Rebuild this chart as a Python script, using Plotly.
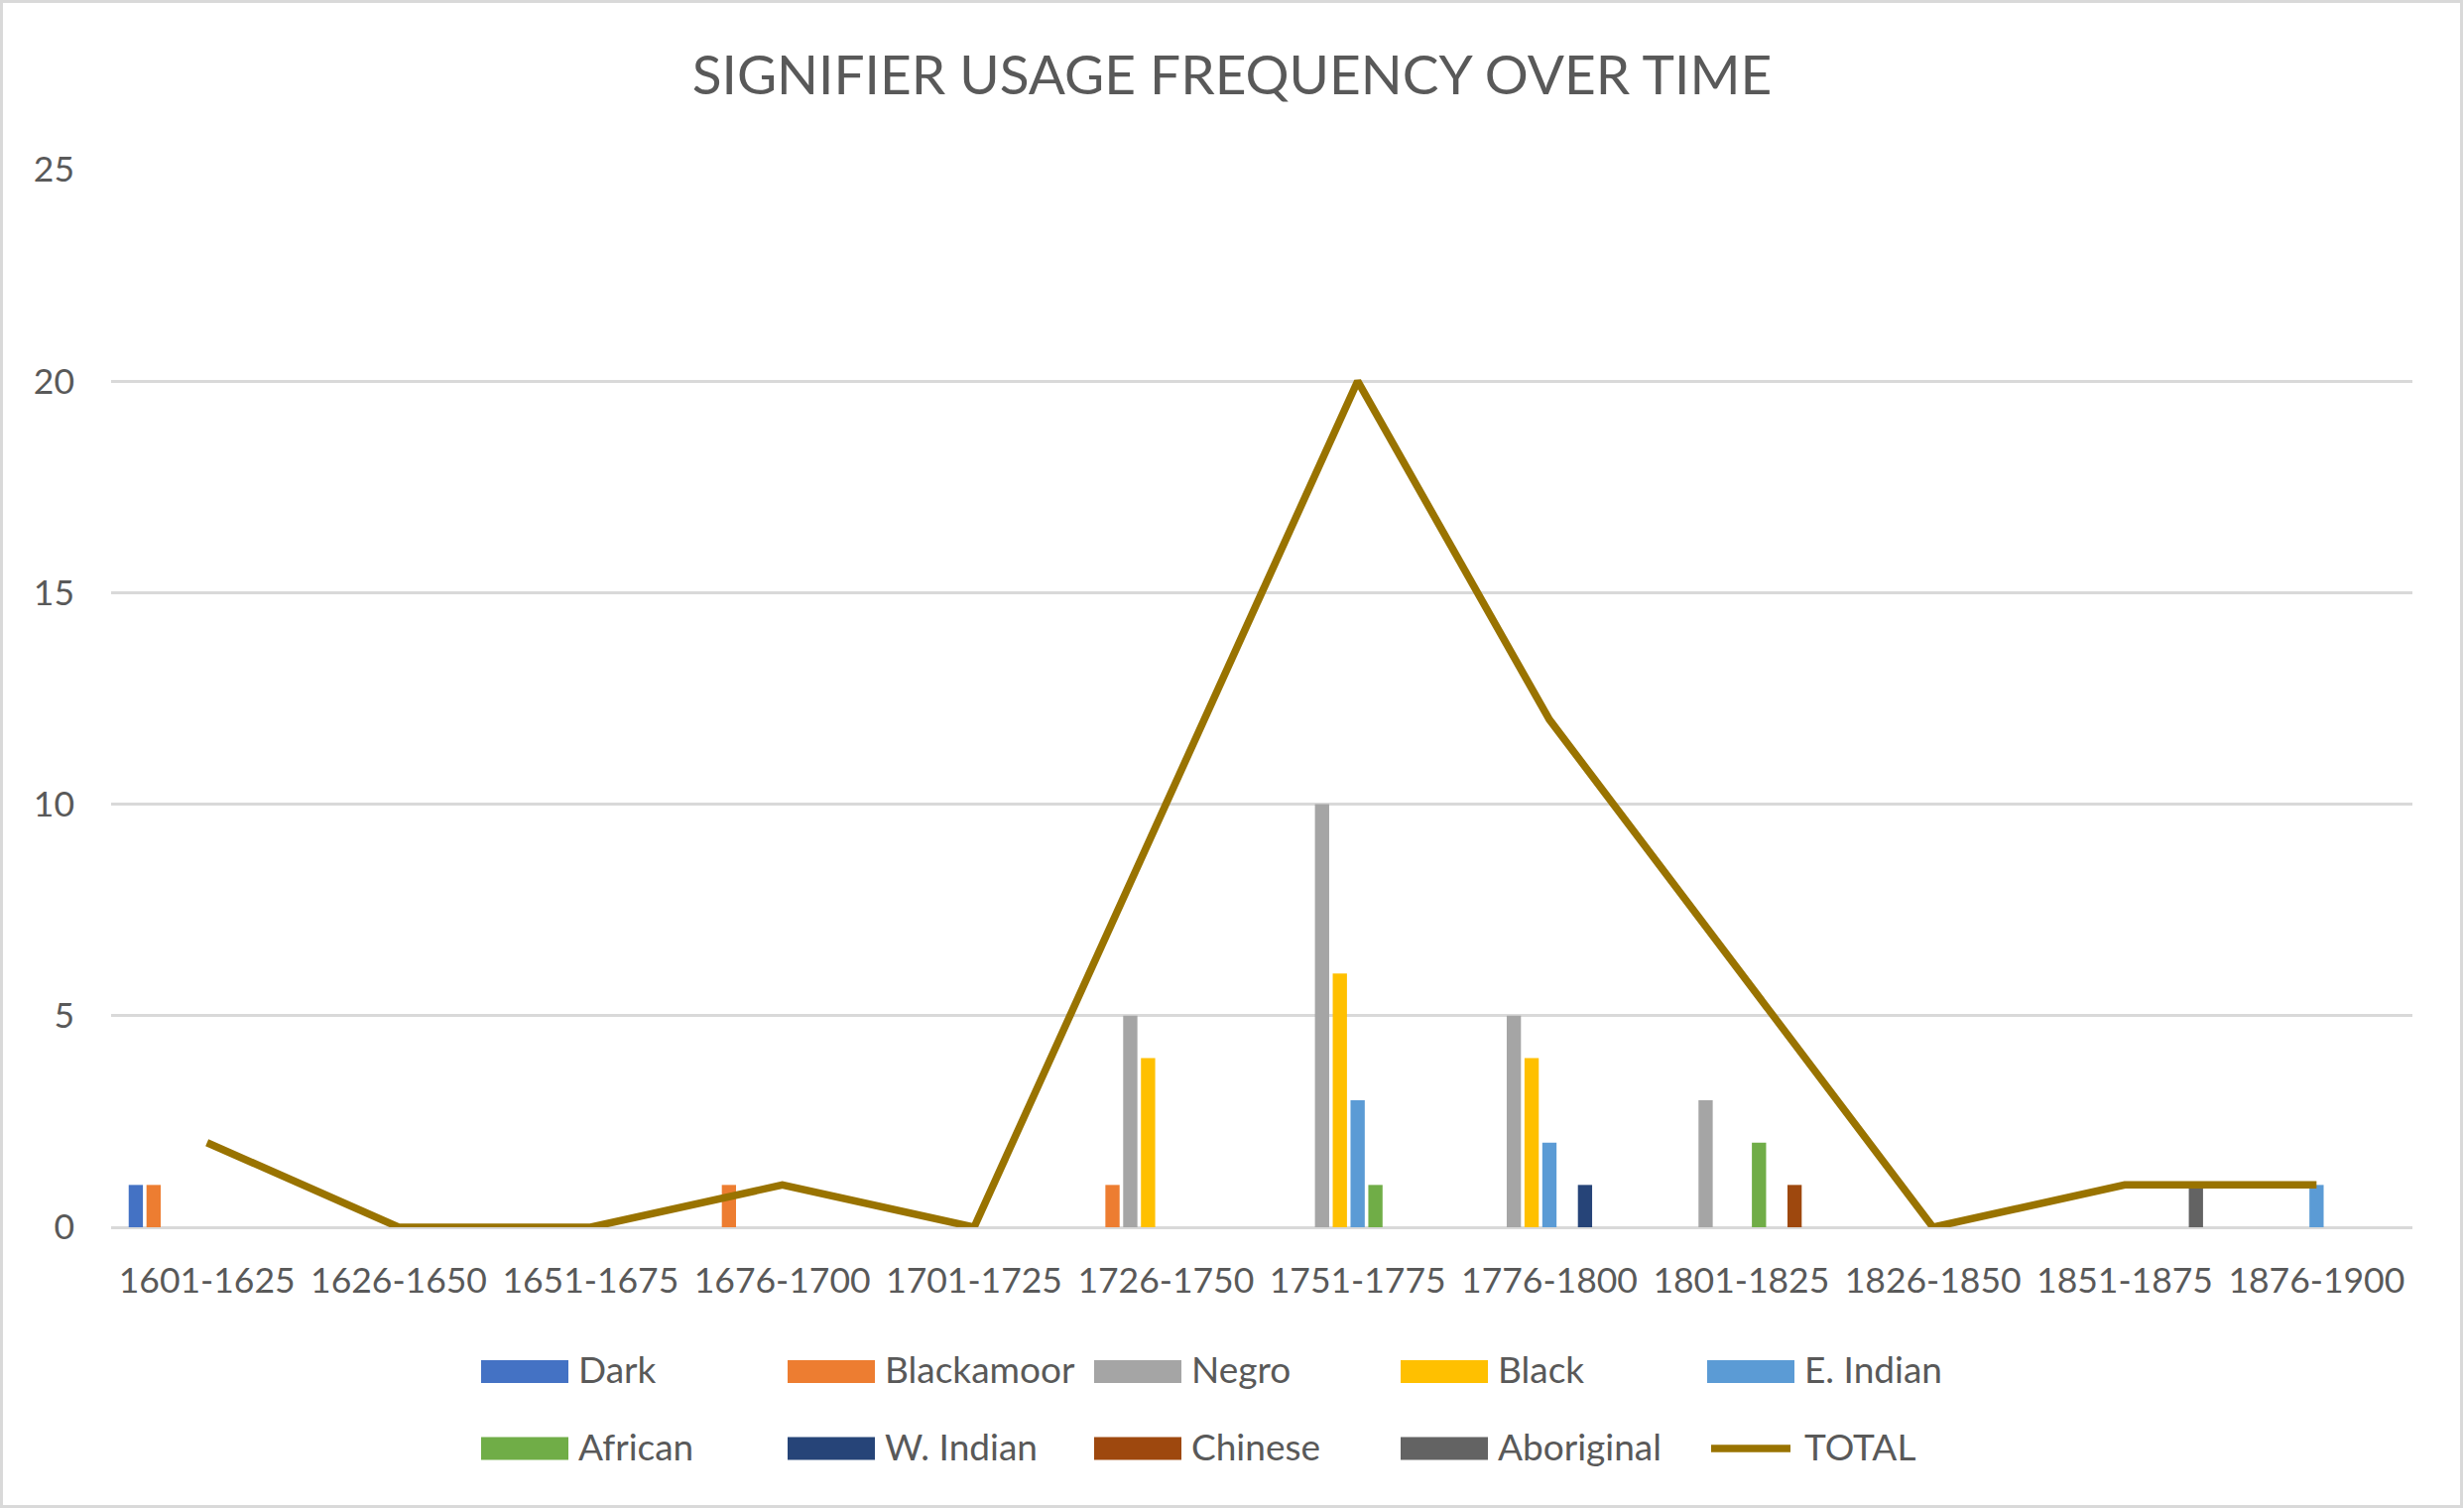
import plotly.graph_objects as go

categories = ["1601-1625", "1626-1650", "1651-1675", "1676-1700", "1701-1725", "1726-1750",
              "1751-1775", "1776-1800", "1801-1825", "1826-1850", "1851-1875", "1876-1900"]

dark =       [1, 0, 0, 0, 0, 0, 0, 0, 0, 0, 0, 0]
blackamoor = [1, 0, 0, 1, 0, 1, 0, 0, 0, 0, 0, 0]
negro =      [0, 0, 0, 0, 0, 5, 10, 5, 3, 0, 0, 0]
black =      [0, 0, 0, 0, 0, 4, 6, 4, 0, 0, 0, 0]
e_indian =   [0, 0, 0, 0, 0, 0, 3, 2, 0, 0, 0, 1]
african =    [0, 0, 0, 0, 0, 0, 1, 0, 2, 0, 0, 0]
w_indian =   [0, 0, 0, 0, 0, 0, 0, 1, 0, 0, 0, 0]
chinese =    [0, 0, 0, 0, 0, 0, 0, 0, 1, 0, 0, 0]
aboriginal = [0, 0, 0, 0, 0, 0, 0, 0, 0, 0, 1, 0]
total =      [2, 0, 0, 1, 0, 10, 20, 12, 6, 0, 1, 1]

series_names = ["Dark", "Blackamoor", "Negro", "Black", "E. Indian",
                "African", "W. Indian", "Chinese", "Aboriginal"]
series_values = [dark, blackamoor, negro, black, e_indian,
                 african, w_indian, chinese, aboriginal]
series_colors = ["#4472C4", "#ED7D31", "#A5A5A5", "#FFC000", "#5B9BD5",
                 "#70AD47", "#264478", "#9E480E", "#636363"]
total_color = "#997300"

FONT = "Lato"
TEXT = "#595959"
GRID = "#D9D9D9"

W, H = 2484, 1521
ML, MR, MT, MB = 112, 52, 171, 284
PW = W - ML - MR
PH = H - MT - MB


def px_x(x):
    return (x - ML) / PW


def px_y(y):
    return (H - MB - y) / PH


fig = go.Figure()
for name, vals, col in zip(series_names, series_values, series_colors):
    fig.add_trace(go.Bar(x=categories, y=vals, name=name, marker_color=col,
                         marker_line_width=0, showlegend=False))
fig.add_trace(go.Scatter(x=categories, y=total, name="TOTAL", mode="lines",
                         line=dict(color=total_color, width=7.5), showlegend=False))

shapes = []
annotations = []
# outer chart border
shapes.append(dict(type="rect", xref="paper", yref="paper",
                   x0=px_x(1.5), x1=px_x(W - 2.5), y0=px_y(H - 2.5), y1=px_y(1.5),
                   line=dict(color=GRID, width=3), fillcolor="rgba(0,0,0,0)", layer="below"))

# custom legend (Excel style)
legend_names = series_names + ["TOTAL"]
legend_colors = series_colors + [total_color]
col_x0 = 485
col_step = 309
row_y = [1382.5, 1460]
for i, (nm, colr) in enumerate(zip(legend_names, legend_colors)):
    r, c = divmod(i, 5)
    x0 = col_x0 + c * col_step
    yc = row_y[r]
    if nm == "TOTAL":
        shapes.append(dict(type="line", xref="paper", yref="paper",
                           x0=px_x(x0 + 4), x1=px_x(x0 + 84), y0=px_y(yc), y1=px_y(yc),
                           line=dict(color=colr, width=7.5)))
    else:
        shapes.append(dict(type="rect", xref="paper", yref="paper",
                           x0=px_x(x0), x1=px_x(x0 + 88), y0=px_y(yc + 11.5), y1=px_y(yc - 11.5),
                           line=dict(width=0), fillcolor=colr))
    annotations.append(dict(text=nm, xref="paper", yref="paper", x=px_x(x0 + 96), y=px_y(yc - 3),
                            xanchor="left", yanchor="middle", showarrow=False,
                            font=dict(family=FONT, size=37, color=TEXT)))

fig.update_layout(
    width=W, height=H,
    margin=dict(l=ML, r=MR, t=MT, b=MB, pad=0),
    paper_bgcolor="white", plot_bgcolor="white",
    barmode="group", bargap=0.165, bargroupgap=0.2,
    title=dict(text="SIGNIFIER USAGE FREQUENCY OVER TIME", x=0.5, xref="container",
               xanchor="center", y=1 - 76 / H, yref="container", yanchor="middle",
               font=dict(family=FONT, size=55, color=TEXT)),
    font=dict(family=FONT, size=35, color=TEXT),
    xaxis=dict(type="category", showgrid=False, showline=False, ticks="",
               tickfont=dict(family=FONT, size=35.5, color=TEXT), ticklabelstandoff=29,
               fixedrange=True),
    yaxis=dict(range=[0, 25], dtick=5, showgrid=True, gridcolor=GRID, gridwidth=2.5,
               zeroline=True, zerolinecolor=GRID, zerolinewidth=2.5, showline=False,
               ticks="", tickfont=dict(family=FONT, size=35.5, color=TEXT),
               ticklabelstandoff=36, fixedrange=True),
    shapes=shapes,
    annotations=annotations,
    showlegend=False,
)

fig.write_html("out.html", config={"displayModeBar": False},
               post_script="document.body.style.margin='0';document.body.style.overflow='hidden';")
